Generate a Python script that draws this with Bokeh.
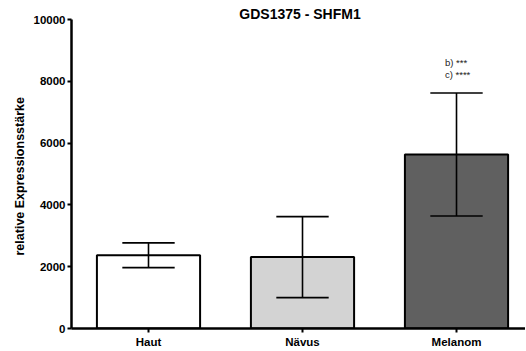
from bokeh.plotting import figure
from bokeh.models import Range1d, FixedTicker, Label, Title, ColumnDataSource
from bokeh.embed import file_html
from bokeh.resources import INLINE
from bokeh.core.properties import value

title_text = "GDS1375 - SHFM1"
categories = ["Haut", "Nävus", "Melanom"]
means = [2370, 2310, 5630]
errors = [400, 1310, 1990]
fill_colors = ["#ffffff", "#d3d3d3", "#606060"]
y_ticks = [0, 2000, 4000, 6000, 8000, 10000]
annotations = ["b) ***", "c) ****"]
annotation_values = [8610, 8220]
y_label = "relative Expressionsstärke"

FONT = "Liberation Sans"

xs = [i + 0.5 for i in range(len(categories))]
x_end = 2.948
y_end = 10615

p = figure(width=525, height=350, output_backend="svg", toolbar_location=None,
           x_range=Range1d(0, x_end), y_range=Range1d(0, y_end),
           min_border_left=71, min_border_right=0, min_border_top=0, min_border_bottom=10)
p.outline_line_color = None
p.grid.grid_line_color = None
p.background_fill_color = "white"
p.border_fill_color = "white"

src = ColumnDataSource(dict(x=xs, top=means, color=fill_colors,
                            lo=[m - e for m, e in zip(means, errors)],
                            hi=[m + e for m, e in zip(means, errors)],
                            xl=[x - 0.17 for x in xs], xr=[x + 0.17 for x in xs]))

p.vbar(x="x", top="top", bottom=0, width=0.67, fill_color="color",
       line_color="black", line_width=2, source=src)
p.segment(x0="x", x1="x", y0="lo", y1="hi", line_color="black", line_width=1.6, source=src)
p.segment(x0="xl", x1="xr", y0="hi", y1="hi", line_color="black", line_width=1.6, source=src)
p.segment(x0="xl", x1="xr", y0="lo", y1="lo", line_color="black", line_width=1.6, source=src)

# annotations above Melanom
ann_x = [xs[2] - 0.075] * len(annotations)
p.text(x=ann_x, y=annotation_values, text=annotations, text_font=value(FONT),
       text_font_size="9.5px", text_align="left", text_baseline="middle", text_color="#222222")

# title
p.add_layout(Label(x=x_end / 2 + 0.01, y=10190, text=title_text, text_font=FONT,
                   text_font_size="14px", text_font_style="bold", text_align="center",
                   text_baseline="middle", text_color="black"))

# y axis title as a left-side title, shifted up to centre on 0..10000
p.add_layout(Title(text=y_label, align="left", offset=73, text_font=FONT,
                   text_font_size="12.5px", text_font_style="bold", text_color="black",
                   standoff=8), "left")

for ax in (p.xaxis[0], p.yaxis[0]):
    ax.axis_line_width = 2.5
    ax.axis_line_color = "black"
    ax.major_tick_line_width = 2
    ax.major_tick_line_color = "black"
    ax.major_tick_out = 4
    ax.major_tick_in = 0
    ax.minor_tick_line_color = None
    ax.major_label_text_font = FONT
    ax.major_label_text_font_style = "bold"
    ax.major_label_text_font_size = "11.5px"
    ax.major_label_text_color = "black"

p.xaxis.ticker = FixedTicker(ticks=xs)
p.xaxis.major_label_overrides = {x: c for x, c in zip(xs, categories)}
p.xaxis.major_label_standoff = 3
p.xaxis.bounds = (0, x_end)

p.yaxis.ticker = FixedTicker(ticks=y_ticks)
p.yaxis.bounds = (0, 10000)
p.yaxis.major_label_standoff = 2

open("out.html", "w").write(file_html(p, INLINE))
